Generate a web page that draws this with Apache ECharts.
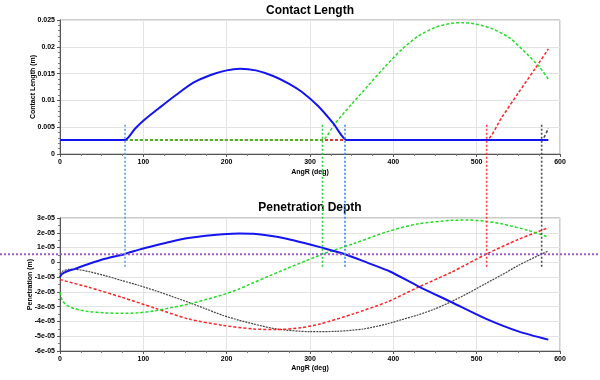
<!DOCTYPE html>
<html><head><meta charset="utf-8">
<script src="https://cdn.jsdelivr.net/npm/echarts/dist/echarts.min.js"></script>
<style>html,body{margin:0;padding:0;background:#fff}#c{width:600px;height:380px}</style>
</head><body><div id="c"></div>
<script>
// ---------- data ----------
const xTicks = [0, 100, 200, 300, 400, 500, 600];
const contactTicks = [0, 0.005, 0.01, 0.015, 0.02, 0.025];
const penTicks = [-6e-5, -5e-5, -4e-5, -3e-5, -2e-5, -1e-5, 0, 1e-5, 2e-5, 3e-5];

// Contact Length (m) vs AngR (deg)
const contactBlue = [[0,0.0026],[76,0.0026],[78,0.0026],[90,0.0047],[100,0.0062],[120,0.0087],[140,0.0111],[160,0.0133],[180,0.0147],[200,0.0156],[216,0.0159],[235,0.0156],[255,0.0146],[275,0.0131],[290,0.0116],[310,0.0089],[328,0.0057],[344,0.0026],[346,0.0026],[586,0.0026]];
const contactGreen = [[0,0.0026],[313,0.0026],[315,0.0026],[330,0.0057],[350,0.0093],[370,0.0128],[390,0.0163],[410,0.0195],[430,0.0220],[450,0.0236],[470,0.0244],[484,0.0245],[500,0.0242],[520,0.0233],[540,0.0216],[560,0.0187],[575,0.0163],[586,0.0140]];
const contactRed = [[0,0.0026],[510,0.0026],[512,0.0026],[530,0.0068],[550,0.0114],[570,0.0159],[586,0.0196]];
const contactBlack = [[0,0.0026],[576,0.0026],[578,0.0026],[586,0.0048]];

// Penetration (in units of 1e-5 m) vs AngR (deg)
const PEN_UNIT = 1e-5;
const penBlue = [[0,-1.0],[2,-0.8],[8,-0.62],[18,-0.44],[35,-0.1],[54,0.24],[78,0.57],[95,0.86],[114,1.14],[134,1.41],[154,1.64],[175,1.8],[195,1.9],[215,1.95],[232,1.93],[252,1.8],[272,1.6],[292,1.33],[312,1.03],[342,0.55],[370,-0.05],[396,-0.62],[430,-1.62],[470,-2.70],[510,-3.79],[550,-4.67],[586,-5.23]];
const penGreen = [[0,-2.02],[1,-2.3],[3,-2.6],[8,-2.9],[18,-3.15],[34,-3.33],[54,-3.42],[74,-3.45],[94,-3.42],[114,-3.28],[134,-3.06],[154,-2.83],[175,-2.52],[195,-2.2],[215,-1.8],[232,-1.38],[252,-0.9],[272,-0.42],[295,0.1],[316,0.57],[352,1.26],[393,2.08],[430,2.61],[470,2.84],[490,2.86],[510,2.78],[530,2.61],[562,2.16],[586,1.71]];
const penRed = [[0,-1.17],[34,-1.68],[74,-2.36],[114,-3.10],[154,-3.83],[195,-4.26],[232,-4.51],[260,-4.55],[290,-4.42],[312,-4.17],[352,-3.49],[393,-2.67],[430,-1.68],[470,-0.66],[512,0.57],[550,1.55],[586,2.34]];
const penBlack = [[0,-0.78],[3,-0.6],[10,-0.48],[18,-0.47],[34,-0.62],[54,-0.9],[74,-1.23],[94,-1.55],[114,-1.91],[134,-2.3],[154,-2.70],[175,-3.15],[195,-3.58],[215,-3.92],[232,-4.17],[260,-4.51],[300,-4.69],[332,-4.67],[364,-4.51],[393,-4.16],[410,-3.88],[430,-3.55],[450,-3.15],[470,-2.65],[490,-2.08],[510,-1.46],[530,-0.85],[550,-0.21],[578,0.57],[586,0.76]];

// contact threshold (penetration) and cursor positions (deg)
const threshold = 0.55;            // x 1e-5 m
const cursorX = [78, 315, 342, 512, 578];
const cursorSpan = [-0.3, 9.4];    // x 1e-5 m, in penetration units

// ---------- styles / layout ----------
const FONT = "'Liberation Sans', Arial, Helvetica, sans-serif";
const W = 600, H = 380;
const G1 = {left: 60, top: 20, width: 500, height: 134};
const G2 = {left: 60, top: 218, width: 500, height: 133};
const colBlue = '#1414f0', colGreen = '#22dd22', colRed = '#ff2222', colBlack = '#454545';
const cursorColors = ['#5d9ee0', '#2ecc40', '#3f86dc', '#ff3b3b', '#505050'];

const xMin = xTicks[0], xMax = xTicks[xTicks.length - 1];
const pMin = penTicks[0], pMax = penTicks[penTicks.length - 1];
const xPerPx = (xMax - xMin) / G1.width;
const ovXMin = xMin - G1.left * xPerPx;
const ovXMax = xMax + (W - G1.left - G1.width) * xPerPx;
const pPerPx = (pMax - pMin) / PEN_UNIT / G2.height;
const ovYMax = pMax / PEN_UNIT + G2.top * pPerPx;
const ovYMin = pMin / PEN_UNIT - (H - G2.top - G2.height) * pPerPx;

const txt = {fontFamily: FONT, fontSize: 7, fontWeight: 'bold', color: '#000'};

function xAxis(gi, nameGap) {
  return {
    type: 'value', gridIndex: gi, min: xMin, max: xMax, interval: 100,
    name: 'AngR (deg)', nameLocation: 'middle', nameGap: nameGap, nameTextStyle: txt, nameMoveOverlap: false,
    axisLine: {onZero: false, lineStyle: {color: '#555', width: 1}},
    axisTick: {show: true, length: 3, lineStyle: {color: '#555'}},
    minorTick: {show: true, splitNumber: 4, length: 2, lineStyle: {color: '#777'}},
    axisLabel: Object.assign({margin: 5}, txt),
    splitLine: {show: true, lineStyle: {color: '#e3e3e3'}}
  };
}
function yAxis(gi, name, min, max, interval, nameGap, minorSplit, formatter) {
  const ax = {
    type: 'value', gridIndex: gi, min: min, max: max, interval: interval,
    name: name, nameLocation: 'middle', nameGap: nameGap, nameRotate: 90, nameTextStyle: txt, nameMoveOverlap: false,
    axisLine: {show: true, lineStyle: {color: '#555', width: 1}},
    axisTick: {show: true, length: 3, lineStyle: {color: '#555'}},
    minorTick: {show: true, splitNumber: minorSplit, length: 2, lineStyle: {color: '#777'}},
    axisLabel: Object.assign({margin: 5}, txt),
    splitLine: {show: true, lineStyle: {color: '#e3e3e3'}}
  };
  if (formatter) ax.axisLabel.formatter = formatter;
  return ax;
}
function penFmt(v) {
  const n = Math.round(v / PEN_UNIT);
  return n === 0 ? '0' : n + 'e-05';
}
function line(gi, data, color, width, type, z) {
  return {
    type: 'line', xAxisIndex: gi, yAxisIndex: gi, data: data, showSymbol: false, symbol: 'none',
    smooth: 0.25, silent: true, z: z || 2,
    lineStyle: {color: color, width: width, type: type}
  };
}
const pen = arr => arr.map(p => [p[0], p[1] * PEN_UNIT]);

const series = [
  line(0, contactBlack, colBlack, 1.5, [3, 2]),
  line(0, contactRed, colRed, 1.5, [3, 2]),
  line(0, contactGreen, colGreen, 1.5, [3, 2]),
  line(0, contactBlue, colBlue, 2, 'solid', 3),
  line(1, pen(penBlack), colBlack, 1.2, [2, 1]),
  line(1, pen(penRed), colRed, 1.5, [3, 2]),
  line(1, pen(penGreen), colGreen, 1.5, [3, 2]),
  line(1, pen(penBlue), colBlue, 2, 'solid', 3),
  {
    type: 'line', xAxisIndex: 2, yAxisIndex: 2, silent: true, showSymbol: false, symbol: 'none', z: 10,
    data: [[ovXMin, threshold], [ovXMax, threshold]],
    lineStyle: {color: '#9b59d0', width: 2, type: [2, 2]}
  }
];
cursorX.forEach((x, i) => {
  series.push({
    type: 'line', xAxisIndex: 2, yAxisIndex: 2, silent: true, showSymbol: false, symbol: 'none', z: 10,
    data: [[x, cursorSpan[0]], [x, cursorSpan[1]]],
    lineStyle: {color: cursorColors[i], width: 1.6, type: [2, 2]}
  });
});

const chart = echarts.init(document.getElementById('c'), null, {renderer: 'canvas'});
chart.setOption({
  animation: false,
  backgroundColor: '#fff',
  title: [
    {text: 'Contact Length', left: G1.left + G1.width / 2, top: 5, padding: 0, textAlign: 'center', textVerticalAlign: 'top',
     textStyle: {fontFamily: FONT, fontSize: 12, fontWeight: 'bold', color: '#000'}},
    {text: 'Penetration Depth', left: G2.left + G2.width / 2, top: 202, padding: 0, textAlign: 'center', textVerticalAlign: 'top',
     textStyle: {fontFamily: FONT, fontSize: 12, fontWeight: 'bold', color: '#000'}}
  ],
  grid: [
    Object.assign({show: true, borderColor: '#9a9a9a', borderWidth: 1, backgroundColor: 'transparent'}, G1),
    Object.assign({show: true, borderColor: '#9a9a9a', borderWidth: 1, backgroundColor: 'transparent'}, G2),
    {left: 0, top: 0, width: W, height: H, show: false}
  ],
  xAxis: [
    xAxis(0, 15),
    xAxis(1, 14),
    {type: 'value', gridIndex: 2, min: ovXMin, max: ovXMax, show: false}
  ],
  yAxis: [
    yAxis(0, 'Contact Length (m)', contactTicks[0], contactTicks[contactTicks.length - 1], 0.005, 23, 5),
    yAxis(1, 'Penetration (m)', pMin, pMax, PEN_UNIT, 26, 2, penFmt),
    {type: 'value', gridIndex: 2, min: ovYMin, max: ovYMax, show: false}
  ],
  series: series
});
</script></body></html>
